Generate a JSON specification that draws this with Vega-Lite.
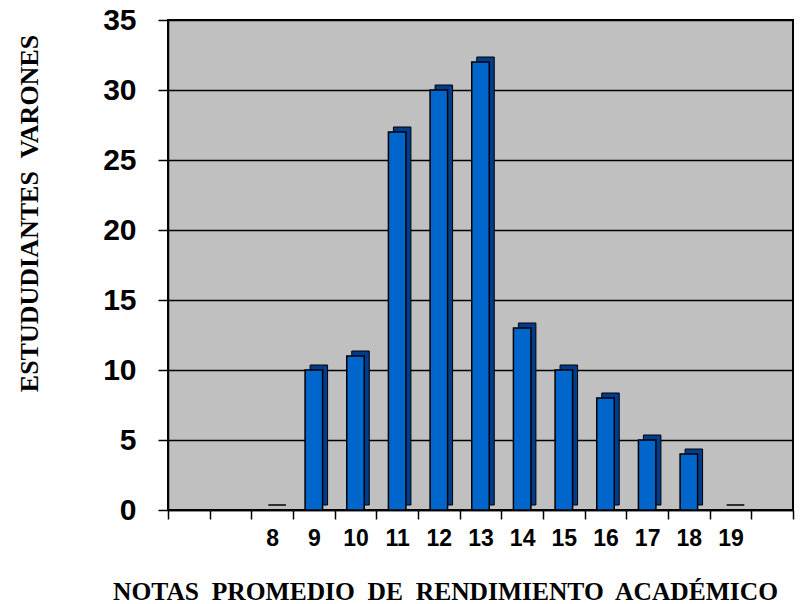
{
  "$schema": "https://vega.github.io/schema/vega-lite/v6.json",
  "autosize": {"type": "none"},
  "width": 625,
  "height": 490,
  "padding": {"left": 168, "top": 20, "right": 16, "bottom": 94},
  "background": "white",
  "config": {
    "view": {"fill": "#C0C0C0", "stroke": "black", "strokeWidth": 2},
    "axis": {"domainColor": "black", "tickColor": "black", "labelColor": "black", "titleColor": "black"}
  },
  "data": {
    "values": [
      {"nota": "a", "n": null},
      {"nota": "b", "n": null},
      {"nota": "8", "n": 0},
      {"nota": "9", "n": 10},
      {"nota": "10", "n": 11},
      {"nota": "11", "n": 27},
      {"nota": "12", "n": 30},
      {"nota": "13", "n": 32},
      {"nota": "14", "n": 13},
      {"nota": "15", "n": 10},
      {"nota": "16", "n": 8},
      {"nota": "17", "n": 5},
      {"nota": "18", "n": 4},
      {"nota": "19", "n": 0},
      {"nota": "c", "n": null}
    ]
  },
  "encoding": {
    "x": {
      "field": "nota", "type": "nominal", "sort": null,
      "scale": {"domain": ["a","b","8","9","10","11","12","13","14","15","16","17","18","19","c"], "paddingInner": 0, "paddingOuter": 0},
      "axis": {
        "title": "NOTAS\u00a0 PROMEDIO\u00a0 DE\u00a0 RENDIMIENTO\u00a0 ACADÉMICO",
        "labelExpr": "datum.value == 'a' || datum.value == 'b' || datum.value == 'c' ? '' : datum.value",
        "labelAngle": 0,
        "labelFont": "Liberation Sans", "labelFontWeight": "bold", "labelFontSize": 23,
        "labelPadding": 8,
        "tickBand": "extent", "tickSize": 9, "tickWidth": 1.5,
        "domainWidth": 1.5,
        "titleFont": "Liberation Serif", "titleFontWeight": "bold", "titleFontSize": 25.5,
        "titleBaseline": "alphabetic",
        "titleX": 277, "titleY": 89, "titleAnchor": "middle"
      }
    },
    "y": {
      "field": "n", "type": "quantitative",
      "scale": {"domain": [0, 35], "nice": false},
      "axis": {
        "title": "ESTUDUDIANTES\u00a0 VARONES",
        "values": [0,5,10,15,20,25,30,35],
        "labelFont": "Liberation Sans", "labelFontWeight": "bold", "labelFontSize": 30,
        "labelPadding": 22, "tickSize": 10, "tickWidth": 1.5, "domainWidth": 1.5,
        "grid": true, "gridColor": "black", "gridWidth": 1.5, "gridOpacity": 1,
        "titleFont": "Liberation Serif", "titleFontWeight": "bold", "titleFontSize": 26,
        "titleBaseline": "alphabetic", "titleAngle": -90,
        "titleX": -131, "titleY": 193, "titleAnchor": "middle"
      }
    }
  },
  "layer": [
    {
      "mark": {"type": "bar", "width": {"band": 0.42}, "color": "#003C8C", "stroke": "black", "strokeWidth": 1, "xOffset": 5, "yOffset": -5, "y2Offset": -5}
    },
    {
      "mark": {"type": "bar", "width": {"band": 0.42}, "color": "#0066CC", "stroke": "black", "strokeWidth": 1.5}
    }
  ]
}
